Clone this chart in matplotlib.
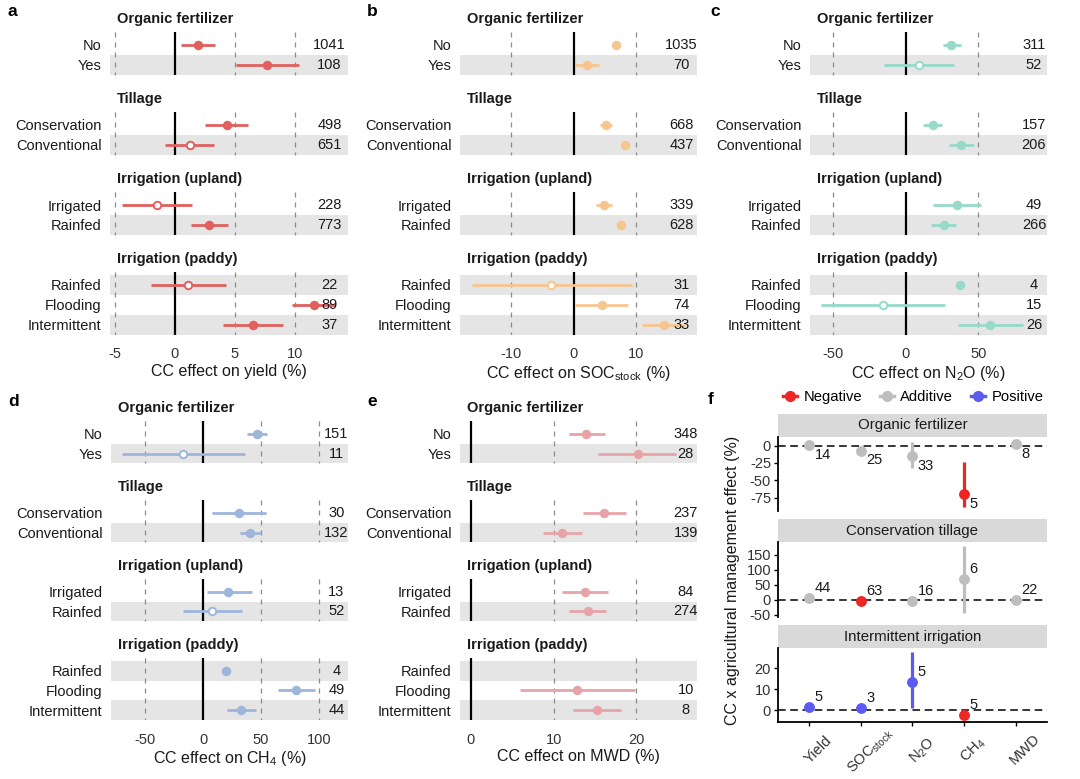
import matplotlib
matplotlib.use("Agg")
import matplotlib.pyplot as plt
import matplotlib.transforms as mtransforms
from matplotlib.lines import Line2D
import numpy as np

plt.rcParams['font.family'] = ['Liberation Sans', 'DejaVu Sans']
plt.rcParams['mathtext.fontset'] = 'custom'
plt.rcParams['mathtext.rm'] = 'Liberation Sans'
plt.rcParams['mathtext.it'] = 'Liberation Sans:italic'
plt.rcParams['mathtext.bf'] = 'Liberation Sans:bold'

# ---- panels a-e: subgroup effects ----
groups = ["Organic fertilizer", "Tillage", "Irrigation (upland)", "Irrigation (paddy)"]
group_sizes = [2, 2, 2, 3]
row_labels = ["No", "Yes", "Conservation", "Conventional", "Irrigated", "Rainfed",
              "Rainfed", "Flooding", "Intermittent"]

yield_est = [1.94, 7.64, 4.31, 1.25, -1.53, 2.83, 1.11, 11.58, 6.53]
yield_lo = [0.5, 5.06, 2.5, -0.83, -4.44, 1.3, -2.0, 9.72, 4.03]
yield_hi = [3.33, 10.3, 6.1, 3.28, 1.39, 4.39, 4.22, 13.3, 9.03]
yield_n = ["1041", "108", "498", "651", "228", "773", "22", "89", "37"]

soc_est = [6.77, 2.18, 5.17, 8.3, 4.9, 7.57, -3.63, 4.58, 14.45]
soc_lo = [6.2, 0.2, 4.2, 7.7, 3.6, 6.9, -16.3, 0.2, 11.0]
soc_hi = [7.4, 4.1, 6.2, 8.9, 6.2, 8.3, 9.3, 8.7, 17.8]
soc_n = ["1035", "70", "668", "437", "339", "628", "31", "74", "33"]

n2o_est = [31.0, 9.4, 18.4, 37.9, 35.2, 26.0, 37.4, -15.9, 58.1]
n2o_lo = [25.3, -14.7, 11.7, 29.4, 18.6, 17.5, 37.4, -58.6, 35.6]
n2o_hi = [37.9, 33.5, 24.8, 46.7, 51.7, 34.7, 37.4, 27.1, 80.4]
n2o_n = ["311", "52", "157", "206", "49", "266", "4", "15", "26"]

ch4_est = [46.1, -17.8, 31.1, 40.9, 21.6, 7.8, 19.3, 80.0, 32.3]
ch4_lo = [37.5, -70.5, 7.8, 31.7, 2.9, -17.3, 19.3, 64.8, 20.2]
ch4_hi = [55.3, 36.0, 54.7, 50.4, 41.8, 33.2, 19.3, 96.5, 45.5]
ch4_n = ["151", "11", "30", "132", "13", "52", "4", "49", "44"]

mwd_est = [13.97, 20.2, 16.1, 11.0, 13.8, 14.1, np.nan, 12.8, 15.2]
mwd_lo = [11.8, 15.4, 13.5, 8.75, 11.0, 11.9, np.nan, 5.9, 12.4]
mwd_hi = [16.2, 24.8, 18.7, 13.4, 16.6, 16.3, np.nan, 19.8, 18.1]
mwd_n = ["348", "28", "237", "139", "84", "274", "", "10", "8"]

# ---- panel f: interaction effects ----
f_facets = ["Organic fertilizer", "Conservation tillage", "Intermittent irrigation"]
f_vars = ["Yield", r"SOC$_{\mathrm{stock}}$", r"N$_2$O", r"CH$_4$", "MWD"]
f_est = [[1.0, -7.2, -14.9, -70.2, 2.5],
         [7.7, -3.3, -3.3, 70.0, 0.0],
         [1.6, 1.1, 13.6, -2.4, np.nan]]
f_lo = [[1.0, -7.2, -31.8, -89.0, 2.5],
        [7.7, -3.3, -3.3, -42.0, 0.0],
        [1.6, 1.1, 0.8, -2.4, np.nan]]
f_hi = [[1.0, -7.2, 4.9, -23.1, 2.5],
        [7.7, -3.3, -3.3, 181.0, 0.0],
        [1.6, 1.1, 28.0, -2.4, np.nan]]
f_type = [["Additive", "Additive", "Additive", "Negative", "Additive"],
          ["Additive", "Negative", "Additive", "Additive", "Additive"],
          ["Positive", "Positive", "Positive", "Negative", ""]]
f_n = [["14", "25", "33", "5", "8"],
       ["44", "63", "16", "6", "22"],
       ["5", "3", "5", "5", ""]]

W, H = 1080, 779
fig = plt.figure(figsize=(W / 100, H / 100), dpi=100)


def px_axes(x0, y0, x1, y1):
    return fig.add_axes([x0 / W, 1 - y1 / H, (x1 - x0) / W, (y1 - y0) / H])


def forest(ax, est, lo, hi, n, color, xlim, ticks, xlabel, label_frac):
    # y positions with gaps between groups
    ypos, starts = [], []
    y = 0
    for s in group_sizes:
        starts.append(y)
        ypos.extend(range(y, y + s))
        y += s + 2
    ax.set_xlim(*xlim)
    ax.set_ylim(14.5, -0.65)
    for g, s in zip(starts, group_sizes):
        last = g + s - 1
        for r in range(g, g + s):
            if (last - r) % 2 == 0:
                ax.axhspan(r - 0.5, r + 0.5, color="#E5E5E5", lw=0, zorder=0)
        for t in ticks:
            if t == 0:
                ax.vlines(0, g - 0.65, last + 0.5, color="black", lw=1.6, zorder=2)
            else:
                ax.vlines(t, g - 0.65, last + 0.5, color="#8C8C8C", lw=0.9,
                          linestyles=(0, (4, 4)), zorder=1)
    for i, yy in enumerate(ypos):
        if np.isnan(est[i]):
            continue
        ax.plot([lo[i], hi[i]], [yy, yy], color=color, lw=2.0, solid_capstyle="butt", zorder=3)
        sig = not (lo[i] <= 0 <= hi[i])
        ax.plot(est[i], yy, "o", ms=5.4, mfc=color if sig else "white",
                mec=color, mew=1.4, zorder=4)
        ax.text(label_frac, yy, n[i], transform=ax.get_yaxis_transform(),
                ha="center", va="center", fontsize=10.5, color="#1a1a1a", zorder=5)
    for g, name in zip(starts, groups):
        ax.text(0.03, g - 1.3, name, transform=ax.get_yaxis_transform(),
                ha="left", va="center", fontsize=10.5, fontweight="bold",
                color="#1a1a1a", clip_on=False)
    ax.set_yticks(ypos)
    ax.set_yticklabels(row_labels, fontsize=10.5, color="#1a1a1a")
    ax.set_xticks(ticks)
    ax.set_xticklabels([str(t) for t in ticks], fontsize=10.5, color="#333333")
    ax.tick_params(axis="both", length=0)
    ax.tick_params(axis="y", pad=6)
    ax.tick_params(axis="x", pad=9)
    ax.set_xlabel(xlabel, fontsize=11.5, labelpad=2, color="#1a1a1a")
    for sp in ax.spines.values():
        sp.set_visible(False)
    ax.set_facecolor("none")


ax_a = px_axes(110, 32, 348, 335)
forest(ax_a, yield_est, yield_lo, yield_hi, yield_n, "#E0605E", (-5.4, 14.4),
       [-5, 0, 5, 10], "CC effect on yield (%)", 0.922)
ax_b = px_axes(460, 32, 697, 335)
forest(ax_b, soc_est, soc_lo, soc_hi, soc_n, "#F7C58E", (-18.2, 19.8),
       [-10, 0, 10], r"CC effect on SOC$_{\mathrm{stock}}$ (%)", 0.935)
ax_c = px_axes(810, 32, 1047, 335)
forest(ax_c, n2o_est, n2o_lo, n2o_hi, n2o_n, "#97DAC8", (-66, 97.2),
       [-50, 0, 50], r"CC effect on N$_2$O (%)", 0.945)
ax_d = px_axes(111, 421, 348, 720)
forest(ax_d, ch4_est, ch4_lo, ch4_hi, ch4_n, "#9EB5DC", (-79.7, 125.2),
       [-50, 0, 50, 100], r"CC effect on CH$_4$ (%)", 0.951)
ax_e = px_axes(460, 421, 697, 720)
forest(ax_e, mwd_est, mwd_lo, mwd_hi, mwd_n, "#E8A3A8", (-1.29, 27.3),
       [0, 10, 20], "CC effect on MWD (%)", 0.952)

# ---- panel f ----
type_colors = {"Negative": "#EE2525", "Additive": "#BEBEBE", "Positive": "#5B5BF2"}
f_boxes = [(436.7, 511.0), (541.7, 616.7), (647.7, 722.3)]
strip_h = 22.4
f_ylims = [(-94.4, 13.0), (-55.7, 194.0), (-5.9, 30.0)]
f_yticks = [[-75, -50, -25, 0], [-50, 0, 50, 100, 150], [0, 10, 20]]
label_dy = [-7, 7, 7]
x_cat = np.arange(1, len(f_vars) + 1)
for k in range(3):
    y0, y1 = f_boxes[k]
    strip = px_axes(778, y0 - strip_h, 1046.7, y0)
    strip.set_facecolor("#D9D9D9")
    strip.set_xticks([]); strip.set_yticks([])
    for sp in strip.spines.values():
        sp.set_visible(False)
    strip.text(0.5, 0.5, f_facets[k], ha="center", va="center", fontsize=10.8,
               color="#1a1a1a", transform=strip.transAxes)

    ax = px_axes(778, y0, 1046.7, y1)
    ax.set_xlim(0.4, 5.6)
    ax.set_ylim(*f_ylims[k])
    ax.axhline(0, color="black", lw=1.1, ls=(0, (5, 3)), zorder=1)
    for j in range(len(f_vars)):
        e = f_est[k][j]
        if np.isnan(e):
            continue
        c = type_colors[f_type[k][j]]
        ax.plot([x_cat[j], x_cat[j]], [f_lo[k][j], f_hi[k][j]], color=c, lw=2.3,
                solid_capstyle="butt", zorder=2)
        ax.plot(x_cat[j], e, "o", ms=6.8, color=c, zorder=3)
        ax.annotate(f_n[k][j], (x_cat[j], e), xytext=(4, label_dy[k]),
                    textcoords="offset points", ha="left", va="center",
                    fontsize=10.5, color="#1a1a1a")
    ax.set_yticks(f_yticks[k])
    ax.set_yticklabels([str(t) for t in f_yticks[k]], fontsize=10.5, color="#333333")
    ax.tick_params(axis="y", length=3, width=1, pad=2)
    for s in ["top", "right"]:
        ax.spines[s].set_visible(False)
    ax.spines["left"].set_linewidth(1.3)
    ax.set_facecolor("none")
    if k < 2:
        ax.spines["bottom"].set_visible(False)
        ax.set_xticks([])
    else:
        ax.spines["bottom"].set_linewidth(1.3)
        ax.set_xticks(x_cat)
        ax.set_xticklabels(f_vars, fontsize=10.5, color="#333333", rotation=45,
                           ha="center", va="top", rotation_mode="anchor")
        ax.tick_params(axis="x", length=3, width=1, pad=13)
        shift = mtransforms.ScaledTranslation(4 / 100, 0, fig.dpi_scale_trans)
        for lab in ax.get_xticklabels():
            lab.set_transform(lab.get_transform() + shift)

fig.text(732 / W, 1 - 580 / H, "CC x agricultural management effect (%)",
         rotation=90, ha="center", va="center", fontsize=11.5, color="#1a1a1a")

handles = [Line2D([0], [0], color=type_colors[t], marker="o", ms=7, lw=2.5)
           for t in ["Negative", "Additive", "Positive"]]
fig.legend(handles, ["Negative", "Additive", "Positive"], loc="center",
           bbox_to_anchor=(913 / W, 1 - 397 / H), ncol=3, frameon=False,
           fontsize=10.6, handlelength=1.0, handletextpad=0.4, columnspacing=1.2)

# panel letters
for lab, (x, y) in zip("abcdef", [(8, 12), (367, 12), (710, 12), (8, 401), (367, 401), (708, 399)]):
    fig.text(x / W, 1 - y / H, lab, fontsize=12.5, fontweight="bold", ha="left", va="center")

fig.savefig("out.png", dpi=100)
